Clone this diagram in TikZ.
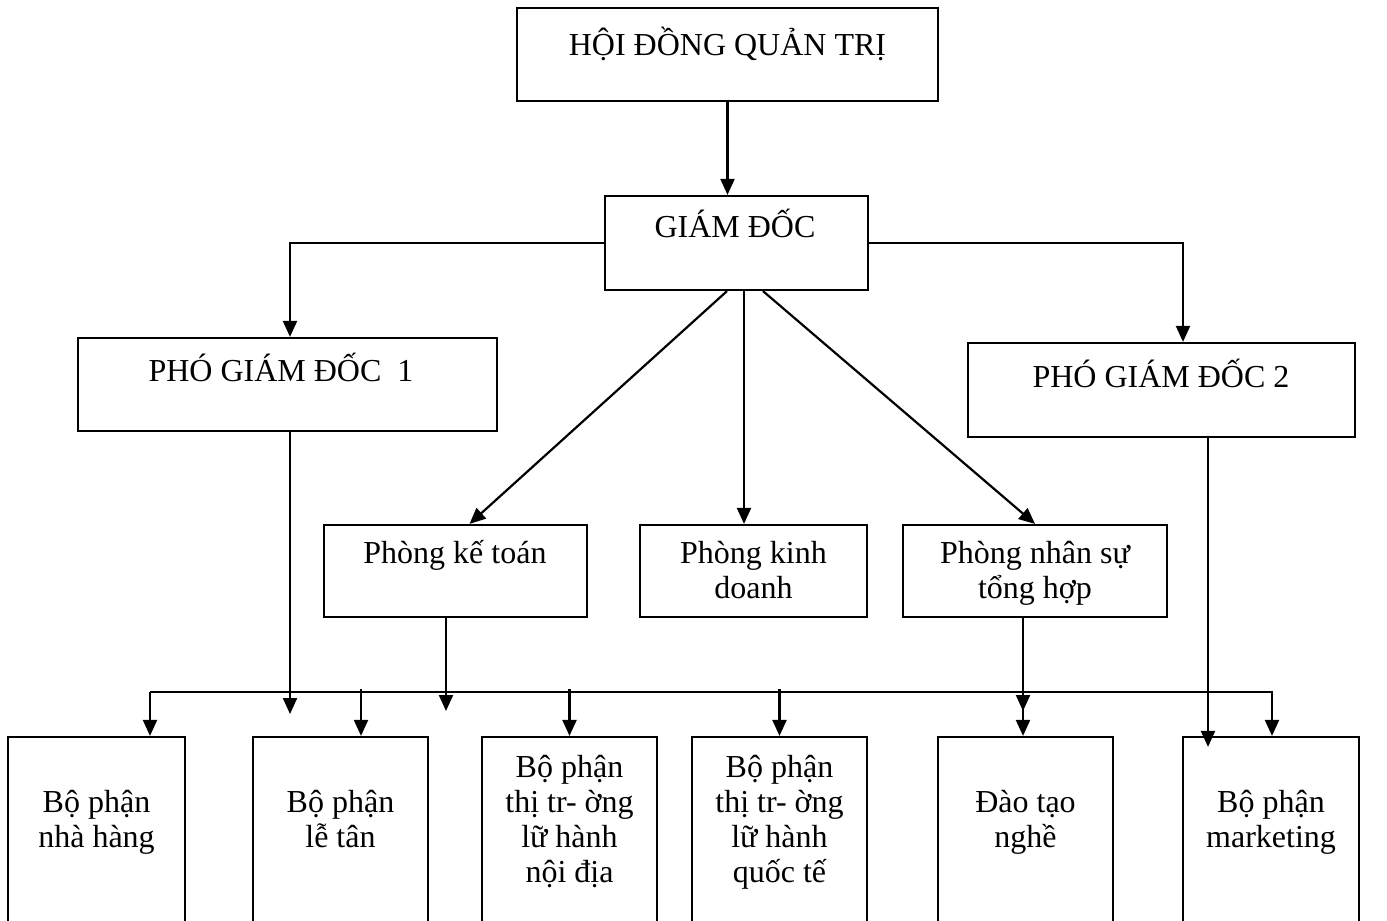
\documentclass[tikz,border=0pt]{standalone}
\usepackage{fontspec}
\setmainfont{Liberation Serif}
\usetikzlibrary{arrows.meta, positioning, calc}

\begin{document}
\begin{tikzpicture}[
    x=1pt, y=-1pt,
    box/.style={
        rectangle, draw, line width=2.2pt, inner sep=0pt
    },
    txt/.style={
        anchor=base, align=center, inner sep=0pt,
        font=\fontsize{32}{34.7}\selectfont
    },
    >={Triangle[length=16pt, width=14pt]}, line width=2.2pt
]
\useasboundingbox (0,0) rectangle (1387,921);
\clip (0,0) rectangle (1387,921);

% upper levels
\node[box, minimum width=421, minimum height=93] (hdqt) at (727.5, 54.5) {};
\node[box, minimum width=263, minimum height=94] (gd)   at (736.5, 243)  {};
\node[box, minimum width=419, minimum height=93] (pgd1) at (287.5, 384.5) {};
\node[box, minimum width=387, minimum height=94] (pgd2) at (1161.5, 390) {};

% departments
\node[box, minimum width=263, minimum height=92] (kt) at (455.5, 571)  {};
\node[box, minimum width=227, minimum height=92] (kd) at (753.5, 571)  {};
\node[box, minimum width=264, minimum height=92] (ns) at (1035, 571)   {};

% sections (cut by the page edge)
\node[box, minimum width=177, minimum height=223] (bp1) at (96.5, 848.5)  {};
\node[box, minimum width=175, minimum height=223] (bp2) at (340.5, 848.5) {};
\node[box, minimum width=175, minimum height=223] (bp3) at (569.5, 848.5) {};
\node[box, minimum width=175, minimum height=223] (bp4) at (779.5, 848.5) {};
\node[box, minimum width=175, minimum height=223] (bp5) at (1025.5, 848.5) {};
\node[box, minimum width=176, minimum height=223] (bp6) at (1271, 848.5) {};

% texts (anchored at the baseline of their last line)
\node[txt] (t-hdqt) at (727.5, 55)  {HỘI ĐỒNG QUẢN TRỊ};
\node[txt] (t-gd)   at (735, 237)   {GIÁM ĐỐC};
\node[txt] (t-pgd1) at (281, 381)   {PHÓ GIÁM ĐỐC~ 1};
\node[txt] (t-pgd2) at (1161, 387)  {PHÓ GIÁM ĐỐC 2};
\node[txt] (t-kt)   at (455, 563)   {Phòng kế toán};
\node[txt] (t-kd)   at (753.5, 598) {Phòng kinh\\doanh};
\node[txt] (t-ns)   at (1035, 598)  {Phòng nhân sự\\tổng hợp};
\node[txt] (t-bp1)  at (96.5, 847)  {Bộ phận\\nhà hàng};
\node[txt] (t-bp2)  at (340.5, 847) {Bộ phận\\lễ tân};
\node[txt] (t-bp3)  at (569.5, 882) {Bộ phận\\thị tr- ờng\\lữ hành\\nội địa};
\node[txt] (t-bp4)  at (779.5, 882) {Bộ phận\\thị tr- ờng\\lữ hành\\quốc tế};
\node[txt] (t-bp5)  at (1025.5, 847) {Đào tạo\\nghề};
\node[txt] (t-bp6)  at (1271, 847)  {Bộ phận\\marketing};

% free ends and bus line
\coordinate (busL) at (150, 692);
\coordinate (busR) at (1272, 692);
\coordinate (end1) at (290, 714);
\coordinate (end2) at (446, 711);
\coordinate (end3) at (1023, 711);

\draw[->] (hdqt.south) -- (hdqt.south |- gd.north);
\draw[->] (gd.west) -| ([xshift=2.5pt]pgd1.north);
\draw[->] (gd.east) -| ([xshift=21.5pt]pgd2.north);
\draw[->] ([xshift=-9.5pt]gd.south) -- ([xshift=14pt]kt.north);
\draw[->] ([xshift=7.5pt]gd.south) -- ([xshift=-9.5pt]kd.north);
\draw[->] ([xshift=26.5pt]gd.south) -- (ns.north);

\draw[->] ([xshift=2.5pt]pgd1.south) -- (end1);
\draw[->] (kt.south -| end2) -- (end2);
\draw[->] (ns.south -| end3) -- (end3);
\draw[->] ([xshift=46.5pt]pgd2.south) -- ([xshift=-63pt, yshift=-11pt]bp6.north);

\draw[->] (busL) -- (busR) -- (busR |- bp6.north);
\draw[->] (busL) -- (busL |- bp1.north);
\draw[->] ([yshift=3pt]busL -| 361,0) -- ([xshift=20.5pt]bp2.north);
\draw[->] ([yshift=3pt]busL -| bp3.north) -- (bp3.north);
\draw[->] ([yshift=3pt]busL -| bp4.north) -- (bp4.north);
\draw[->] ([yshift=3pt]busL -| end3) -- (end3 |- bp5.north);

\end{tikzpicture}
\end{document}
